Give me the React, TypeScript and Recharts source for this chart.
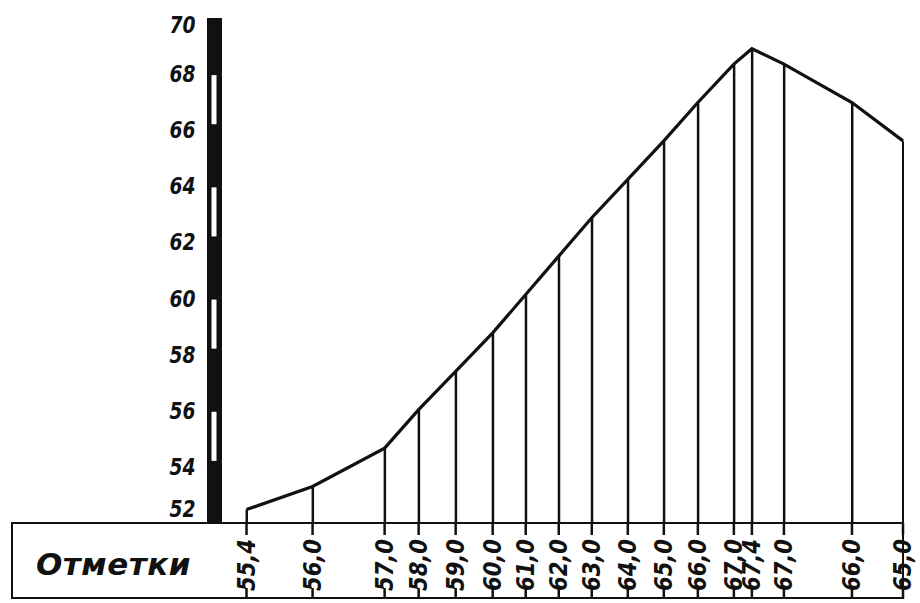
import React from 'react';
import { ComposedChart, Line, Bar, XAxis, YAxis } from 'recharts';

// Distances along the profile (m) of each picket
const distances = [0, 66, 138, 172, 209, 246, 279, 312, 345, 381, 417, 451, 487, 505, 537, 605, 656];
// Ground elevations (Отметки) at each picket
const elevations = [55.4, 56.0, 57.0, 58.0, 59.0, 60.0, 61.0, 62.0, 63.0, 64.0, 65.0, 66.0, 67.0, 67.4, 67.0, 66.0, 65.0];
// Labels written in the table row
const markLabels = ['55,4', '56,0', '57,0', '58,0', '59,0', '60,0', '61,0', '62,0', '63,0', '64,0', '65,0', '66,0', '67,0', '67,4', '67,0', '66,0', '65,0'];
// Vertical scale bar ticks
const scaleTicks = [52, 54, 56, 58, 60, 62, 64, 66, 68, 70];
const hollowSegments = [54, 58, 62, 66];
const rowTitle = 'Отметки';

const data = distances.map((d, i) => ({ d, elev: elevations[i] }));

// layout
const W = 920;
const H = 603;
const TOP = 18;
const AXIS_H = 76;
const BOTTOM_M = 4;
const Y_W = 214.5;
const RIGHT_M = 16;
const Y_MARGIN = 19;
const PLOT_BOTTOM = H - BOTTOM_M - AXIS_H;
const FONT = "'DejaVu Sans', sans-serif";

const YTick = (props: any) => {
  const { x, y, payload } = props;
  const v = payload.value as number;
  const unit = (PLOT_BOTTOM - TOP) / (scaleTicks[scaleTicks.length - 1] - scaleTicks[0]);
  const barX = x + Y_MARGIN;
  const dy = v === 52 ? -14 : v === 70 ? 7 : 0;
  return (
    <g>
      {hollowSegments.includes(v) && (
        <rect x={barX - 3} y={y - 2 * unit + 1} width={5} height={2 * unit - 7} fill="#fff" />
      )}
      <text
        x={x}
        y={y + dy}
        textAnchor="end"
        dominantBaseline="central"
        fontFamily={FONT}
        fontStyle="italic"
        fontWeight="bold"
        fontSize={23}
        textLength={26}
        lengthAdjust="spacingAndGlyphs"
        fill="#111"
      >
        {v}
      </text>
    </g>
  );
};

const XTick = (props: any) => {
  const { x, payload } = props;
  const idx = distances.indexOf(payload.value);
  const label = idx >= 0 ? markLabels[idx] : '';
  const cy = PLOT_BOTTOM + 42;
  return (
    <g>
      <line x1={x} y1={PLOT_BOTTOM} x2={x} y2={PLOT_BOTTOM + 12} stroke="#111" strokeWidth={2.5} />
      <line x1={x} y1={PLOT_BOTTOM + 65} x2={x} y2={PLOT_BOTTOM + AXIS_H} stroke="#111" strokeWidth={2.5} />
      <text
        x={x}
        y={cy}
        transform={`rotate(-90 ${x} ${cy})`}
        textAnchor="middle"
        dominantBaseline="central"
        fontFamily={FONT}
        fontStyle="italic"
        fontWeight="bold"
        fontSize={25}
        textLength={52}
        lengthAdjust="spacingAndGlyphs"
        fill="#111"
      >
        {label}
      </text>
    </g>
  );
};

export default function App() {
  return (
    <div style={{ position: 'absolute', left: 0, top: 0, width: W, height: H, background: '#fff' }}>
      <ComposedChart
        width={W}
        height={H}
        data={data}
        margin={{ top: TOP, right: RIGHT_M, bottom: BOTTOM_M, left: 0 }}
      >
        <XAxis
          dataKey="d"
          type="number"
          domain={[-32, 657]}
          ticks={distances}
          interval={0}
          allowDataOverflow
          height={AXIS_H}
          axisLine={false}
          tickLine={false}
          tickSize={0}
          tickMargin={0}
          tick={<XTick />}
        />
        <YAxis
          yAxisId="left"
          type="number"
          domain={[52, 70]}
          ticks={scaleTicks}
          interval={0}
          allowDataOverflow
          width={Y_W}
          axisLine={{ stroke: '#111', strokeWidth: 15 }}
          tickLine={false}
          tickSize={0}
          tickMargin={Y_MARGIN}
          tick={<YTick />}
        />
        <YAxis yAxisId="h" type="number" domain={[55.05, 68.2]} allowDataOverflow hide width={0} />
        <Bar yAxisId="h" dataKey="elev" barSize={2.5} fill="#111" isAnimationActive={false} />
        <Line
          yAxisId="h"
          type="linear"
          dataKey="elev"
          stroke="#111"
          strokeWidth={3.2}
          dot={false}
          isAnimationActive={false}
        />
      </ComposedChart>
      <div
        style={{
          position: 'absolute',
          left: 11,
          top: PLOT_BOTTOM - 1,
          width: 904 - 11,
          height: AXIS_H + 1,
          border: '2.5px solid #111',
          boxSizing: 'border-box',
          pointerEvents: 'none',
        }}
      />
      <div
        style={{
          position: 'absolute',
          left: 36,
          top: PLOT_BOTTOM + 21,
          height: 40,
          lineHeight: '40px',
          fontFamily: FONT,
          fontStyle: 'italic',
          fontWeight: 'bold',
          fontSize: 31,
          letterSpacing: 0.5,
          color: '#111',
        }}
      >
        {rowTitle}
      </div>
    </div>
  );
}
